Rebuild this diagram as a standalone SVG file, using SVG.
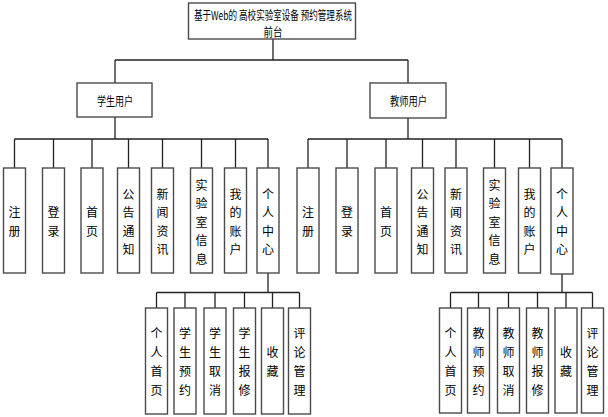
<svg xmlns="http://www.w3.org/2000/svg" width="608" height="417" viewBox="0 0 608 417">
<style>
.box{fill:#fff;stroke:#4a4a4a;stroke-width:1.4}
.ln{fill:none;stroke:#222;stroke-width:1.3}
text{font-family:"Noto Sans CJK SC","Liberation Sans",sans-serif;font-size:12px;fill:#000;text-anchor:middle;dominant-baseline:central}
</style>
<rect width="608" height="417" fill="#fff"/>
<g id="connectors">
<path class="ln" d="M273 39V60M115 60H408M115 60V83M408 60V83"/>
<path class="ln" d="M115 117V139M14.5 139H268M14.5 139V168M53.5 139V168M92 139V168M128.5 139V168M162.5 139V168M201.5 139V168M235.5 139V168M268 139V168"/>
<path class="ln" d="M408 118V139M308 139H562M308 139V168M347 139V168M386 139V168M422.5 139V168M456 139V168M494.5 139V168M529.5 139V168M562 139V168"/>
<path class="ln" d="M268 273V292.5M156.5 292.5H299.5M156.5 292.5V308M185 292.5V308M215 292.5V308M244.5 292.5V308M272.5 292.5V308M299.5 292.5V308"/>
<path class="ln" d="M562 274V292.5M450.5 292.5H592.5M450.5 292.5V308M478.5 292.5V308M508.5 292.5V308M537.5 292.5V308M566 292.5V308M592.5 292.5V308"/>
</g>
<g id="title"><rect class="box" x="188.5" y="3" width="167" height="36"/>
<text x="273" y="14.5" textLength="158" lengthAdjust="spacingAndGlyphs">基于Web的 高校实验室设备 预约管理系统</text>
<text x="273" y="31" textLength="19" lengthAdjust="spacingAndGlyphs">前台</text></g>
<g id="student"><rect class="box" x="77" y="83" width="75" height="34"/><text x="115" y="100" textLength="36" lengthAdjust="spacingAndGlyphs">学生用户</text></g>
<g id="teacher"><rect class="box" x="370" y="83" width="76" height="35"/><text x="408.5" y="100" textLength="37" lengthAdjust="spacingAndGlyphs">教师用户</text></g>

<g id="s-zhuce"><rect class="box" x="3.5" y="168" width="22" height="105"/><text x="14.5"><tspan x="14.5" y="211.3">注</tspan><tspan x="14.5" y="229.8">册</tspan></text></g>
<g id="s-denglu"><rect class="box" x="42.5" y="168" width="22" height="105"/><text><tspan x="53.5" y="211.3">登</tspan><tspan x="53.5" y="229.8">录</tspan></text></g>
<g id="s-shouye"><rect class="box" x="81" y="168" width="22" height="105"/><text><tspan x="92" y="211.3">首</tspan><tspan x="92" y="229.8">页</tspan></text></g>
<g id="s-gonggao"><rect class="box" x="117.5" y="168" width="22" height="105"/><text><tspan x="128.5" y="192.8">公</tspan><tspan x="128.5" y="211.3">告</tspan><tspan x="128.5" y="229.8">通</tspan><tspan x="128.5" y="248.3">知</tspan></text></g>
<g id="s-xinwen"><rect class="box" x="151.5" y="168" width="22" height="105"/><text><tspan x="162.5" y="192.8">新</tspan><tspan x="162.5" y="211.3">闻</tspan><tspan x="162.5" y="229.8">资</tspan><tspan x="162.5" y="248.3">讯</tspan></text></g>
<g id="s-shiyanshi"><rect class="box" x="190.5" y="168" width="22" height="105"/><text><tspan x="201.5" y="183.5">实</tspan><tspan x="201.5" y="202">验</tspan><tspan x="201.5" y="220.5">室</tspan><tspan x="201.5" y="239">信</tspan><tspan x="201.5" y="257.5">息</tspan></text></g>
<g id="s-zhanghu"><rect class="box" x="224.5" y="168" width="22" height="105"/><text><tspan x="235.5" y="192.8">我</tspan><tspan x="235.5" y="211.3">的</tspan><tspan x="235.5" y="229.8">账</tspan><tspan x="235.5" y="248.3">户</tspan></text></g>
<g id="s-geren"><rect class="box" x="257" y="168" width="22" height="105"/><text><tspan x="268" y="192.8">个</tspan><tspan x="268" y="211.3">人</tspan><tspan x="268" y="229.8">中</tspan><tspan x="268" y="248.3">心</tspan></text></g>

<g id="t-zhuce"><rect class="box" x="297" y="168" width="22" height="105"/><text><tspan x="308" y="211.3">注</tspan><tspan x="308" y="229.8">册</tspan></text></g>
<g id="t-denglu"><rect class="box" x="336" y="168" width="22" height="105"/><text><tspan x="347" y="211.3">登</tspan><tspan x="347" y="229.8">录</tspan></text></g>
<g id="t-shouye"><rect class="box" x="375" y="168" width="22" height="105"/><text><tspan x="386" y="211.3">首</tspan><tspan x="386" y="229.8">页</tspan></text></g>
<g id="t-gonggao"><rect class="box" x="411.5" y="168" width="22" height="105"/><text><tspan x="422.5" y="192.8">公</tspan><tspan x="422.5" y="211.3">告</tspan><tspan x="422.5" y="229.8">通</tspan><tspan x="422.5" y="248.3">知</tspan></text></g>
<g id="t-xinwen"><rect class="box" x="445" y="168" width="22" height="105"/><text><tspan x="456" y="192.8">新</tspan><tspan x="456" y="211.3">闻</tspan><tspan x="456" y="229.8">资</tspan><tspan x="456" y="248.3">讯</tspan></text></g>
<g id="t-shiyanshi"><rect class="box" x="483.5" y="168" width="22" height="105"/><text><tspan x="494.5" y="183.5">实</tspan><tspan x="494.5" y="202">验</tspan><tspan x="494.5" y="220.5">室</tspan><tspan x="494.5" y="239">信</tspan><tspan x="494.5" y="257.5">息</tspan></text></g>
<g id="t-zhanghu"><rect class="box" x="518.5" y="168" width="22" height="105"/><text><tspan x="529.5" y="192.8">我</tspan><tspan x="529.5" y="211.3">的</tspan><tspan x="529.5" y="229.8">账</tspan><tspan x="529.5" y="248.3">户</tspan></text></g>
<g id="t-geren"><rect class="box" x="551" y="168" width="22" height="106"/><text><tspan x="562" y="192.8">个</tspan><tspan x="562" y="211.3">人</tspan><tspan x="562" y="229.8">中</tspan><tspan x="562" y="248.3">心</tspan></text></g>

<g id="s-gerenshouye"><rect class="box" x="145.5" y="308" width="22" height="106"/><text><tspan x="156.5" y="331.5">个</tspan><tspan x="156.5" y="350.5">人</tspan><tspan x="156.5" y="369.5">首</tspan><tspan x="156.5" y="388.5">页</tspan></text></g>
<g id="s-yuyue"><rect class="box" x="174" y="308" width="22" height="106"/><text><tspan x="185" y="331.5">学</tspan><tspan x="185" y="350.5">生</tspan><tspan x="185" y="369.5">预</tspan><tspan x="185" y="388.5">约</tspan></text></g>
<g id="s-quxiao"><rect class="box" x="204" y="308" width="22" height="106"/><text><tspan x="215" y="331.5">学</tspan><tspan x="215" y="350.5">生</tspan><tspan x="215" y="369.5">取</tspan><tspan x="215" y="388.5">消</tspan></text></g>
<g id="s-baoxiu"><rect class="box" x="233.5" y="308" width="22" height="106"/><text><tspan x="244.5" y="331.5">学</tspan><tspan x="244.5" y="350.5">生</tspan><tspan x="244.5" y="369.5">报</tspan><tspan x="244.5" y="388.5">修</tspan></text></g>
<g id="s-shoucang"><rect class="box" x="261.5" y="308" width="22" height="106"/><text><tspan x="272.5" y="350.5">收</tspan><tspan x="272.5" y="369.5">藏</tspan></text></g>
<g id="s-pinglun"><rect class="box" x="288.5" y="308" width="22" height="106"/><text><tspan x="299.5" y="331.5">评</tspan><tspan x="299.5" y="350.5">论</tspan><tspan x="299.5" y="369.5">管</tspan><tspan x="299.5" y="388.5">理</tspan></text></g>

<g id="t-gerenshouye"><rect class="box" x="439.5" y="308" width="22" height="105"/><text><tspan x="450.5" y="331.5">个</tspan><tspan x="450.5" y="350.5">人</tspan><tspan x="450.5" y="369.5">首</tspan><tspan x="450.5" y="388.5">页</tspan></text></g>
<g id="t-yuyue"><rect class="box" x="467.5" y="308" width="22" height="105"/><text><tspan x="478.5" y="331.5">教</tspan><tspan x="478.5" y="350.5">师</tspan><tspan x="478.5" y="369.5">预</tspan><tspan x="478.5" y="388.5">约</tspan></text></g>
<g id="t-quxiao"><rect class="box" x="497.5" y="308" width="22" height="105"/><text><tspan x="508.5" y="331.5">教</tspan><tspan x="508.5" y="350.5">师</tspan><tspan x="508.5" y="369.5">取</tspan><tspan x="508.5" y="388.5">消</tspan></text></g>
<g id="t-baoxiu"><rect class="box" x="526.5" y="308" width="22" height="105"/><text><tspan x="537.5" y="331.5">教</tspan><tspan x="537.5" y="350.5">师</tspan><tspan x="537.5" y="369.5">报</tspan><tspan x="537.5" y="388.5">修</tspan></text></g>
<g id="t-shoucang"><rect class="box" x="555" y="308" width="22" height="105"/><text><tspan x="566" y="350.5">收</tspan><tspan x="566" y="369.5">藏</tspan></text></g>
<g id="t-pinglun"><rect class="box" x="581.5" y="308" width="22" height="105"/><text><tspan x="592.5" y="331.5">评</tspan><tspan x="592.5" y="350.5">论</tspan><tspan x="592.5" y="369.5">管</tspan><tspan x="592.5" y="388.5">理</tspan></text></g>
</svg>
